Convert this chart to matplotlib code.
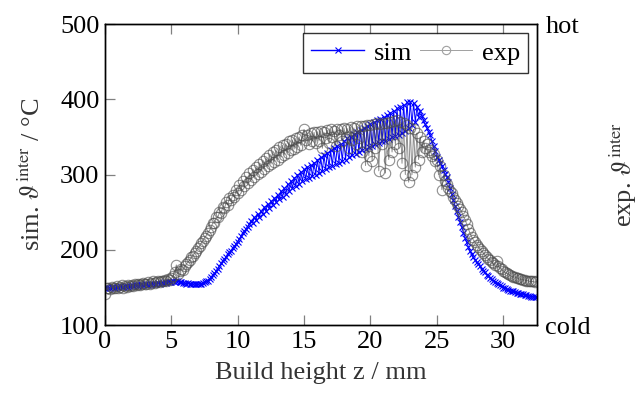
import matplotlib
matplotlib.use("Agg")
import matplotlib.pyplot as plt

z_mm = [
    0.000, 0.125, 0.250, 0.375, 0.500, 0.625, 0.750, 0.875, 1.000, 1.125, 1.250, 1.375, 1.500, 1.625, 1.750, 1.875,
    2.000, 2.125, 2.250, 2.375, 2.500, 2.625, 2.750, 2.875, 3.000, 3.125, 3.250, 3.375, 3.500, 3.625, 3.750, 3.875,
    4.000, 4.125, 4.250, 4.375, 4.500, 4.625, 4.750, 4.875, 5.000, 5.125, 5.250, 5.375, 5.500, 5.625, 5.750, 5.875,
    6.000, 6.125, 6.250, 6.375, 6.500, 6.625, 6.750, 6.875, 7.000, 7.125, 7.250, 7.375, 7.500, 7.625, 7.750, 7.875,
    8.000, 8.125, 8.250, 8.375, 8.500, 8.625, 8.750, 8.875, 9.000, 9.125, 9.250, 9.375, 9.500, 9.625, 9.750, 9.875,
    10.000, 10.125, 10.250, 10.375, 10.500, 10.625, 10.750, 10.875, 11.000, 11.125, 11.250, 11.375, 11.500, 11.625, 11.750, 11.875,
    12.000, 12.125, 12.250, 12.375, 12.500, 12.625, 12.750, 12.875, 13.000, 13.125, 13.250, 13.375, 13.500, 13.625, 13.750, 13.875,
    14.000, 14.125, 14.250, 14.375, 14.500, 14.625, 14.750, 14.875, 15.000, 15.125, 15.250, 15.375, 15.500, 15.625, 15.750, 15.875,
    16.000, 16.125, 16.250, 16.375, 16.500, 16.625, 16.750, 16.875, 17.000, 17.125, 17.250, 17.375, 17.500, 17.625, 17.750, 17.875,
    18.000, 18.125, 18.250, 18.375, 18.500, 18.625, 18.750, 18.875, 19.000, 19.125, 19.250, 19.375, 19.500, 19.625, 19.750, 19.875,
    20.000, 20.125, 20.250, 20.375, 20.500, 20.625, 20.750, 20.875, 21.000, 21.125, 21.250, 21.375, 21.500, 21.625, 21.750, 21.875,
    22.000, 22.125, 22.250, 22.375, 22.500, 22.625, 22.750, 22.875, 23.000, 23.125, 23.250, 23.375, 23.500, 23.625, 23.750, 23.875,
    24.000, 24.125, 24.250, 24.375, 24.500, 24.625, 24.750, 24.875, 25.000, 25.125, 25.250, 25.375, 25.500, 25.625, 25.750, 25.875,
    26.000, 26.125, 26.250, 26.375, 26.500, 26.625, 26.750, 26.875, 27.000, 27.125, 27.250, 27.375, 27.500, 27.625, 27.750, 27.875,
    28.000, 28.125, 28.250, 28.375, 28.500, 28.625, 28.750, 28.875, 29.000, 29.125, 29.250, 29.375, 29.500, 29.625, 29.750, 29.875,
    30.000, 30.125, 30.250, 30.375, 30.500, 30.625, 30.750, 30.875, 31.000, 31.125, 31.250, 31.375, 31.500, 31.625, 31.750, 31.875,
    32.000, 32.125, 32.250, 32.375, 32.500]

sim_T = [
    150, 151, 150, 150, 151, 151, 150, 151, 151, 152, 151, 151, 152, 152, 151, 152,
    153, 152, 153, 153, 152, 153, 154, 153, 154, 154, 153, 154, 155, 154, 155, 155,
    156, 155, 156, 156, 157, 156, 157, 157, 157, 158, 157, 158, 158, 157, 157, 156,
    156, 155, 156, 155, 155, 154, 155, 154, 154, 155, 155, 156, 157, 158, 159, 161,
    164, 166, 169, 172, 175, 178, 182, 185, 188, 191, 194, 197, 199, 202, 205, 208,
    211, 215, 218, 222, 225, 228, 231, 234, 239, 236, 243, 240, 248, 244, 252, 248,
    257, 252, 261, 256, 265, 260, 269, 264, 273, 267, 278, 270, 282, 274, 287, 278,
    292, 282, 296, 285, 300, 288, 304, 291, 307, 294, 310, 296, 313, 298, 316, 300,
    320, 302, 323, 305, 326, 307, 329, 310, 332, 312, 335, 314, 338, 316, 341, 318,
    345, 320, 348, 323, 350, 326, 354, 328, 357, 330, 359, 332, 362, 334, 364, 336,
    367, 338, 370, 340, 372, 342, 374, 344, 377, 345, 379, 347, 382, 350, 385, 351,
    388, 352, 390, 355, 393, 358, 396, 362, 397, 366, 395, 370, 390, 376, 385, 378,
    372, 367, 362, 357, 352, 345, 338, 331, 324, 320, 316, 311, 306, 301, 297, 290,
    282, 274, 266, 258, 251, 244, 237, 230, 223, 216, 210, 204, 198, 194, 190, 187,
    184, 181, 178, 175, 172, 170, 167, 165, 163, 161, 159, 157, 156, 154, 153, 152,
    150, 149, 148, 147, 146, 145, 145, 144, 143, 143, 142, 141, 141, 140, 140, 139,
    139, 138, 138, 137, 137]

exp_T = [
    141, 149, 150, 148, 151, 149, 150, 152, 150, 151, 153, 150, 152, 151, 153, 152,
    153, 152, 154, 153, 155, 153, 154, 156, 154, 155, 157, 155, 156, 158, 156, 157,
    158, 157, 159, 158, 160, 159, 161, 160, 162, 165, 170, 180, 168, 172, 175, 173,
    178, 181, 184, 186, 190, 192, 196, 199, 203, 205, 209, 212, 216, 219, 223, 226,
    230, 236, 236, 243, 243, 250, 249, 257, 255, 263, 260, 269, 266, 273, 270, 279,
    276, 286, 280, 292, 285, 297, 289, 302, 293, 306, 297, 310, 301, 314, 304, 318,
    308, 322, 311, 326, 314, 330, 317, 333, 320, 336, 323, 339, 326, 341, 329, 344,
    332, 346, 334, 348, 336, 350, 339, 352, 360, 346, 352, 340, 355, 345, 356, 342,
    357, 345, 358, 335, 356, 348, 359, 342, 360, 350, 358, 338, 361, 352, 360, 345,
    362, 350, 361, 335, 363, 346, 362, 340, 364, 348, 365, 330, 364, 312, 366, 325,
    366, 318, 367, 335, 368, 305, 367, 340, 368, 302, 369, 320, 370, 330, 371, 340,
    372, 335, 370, 315, 368, 300, 366, 290, 362, 300, 360, 310, 355, 320, 350, 330,
    345, 335, 340, 330, 333, 325, 328, 318, 320, 300, 312, 280, 300, 292, 288, 282,
    278, 275, 270, 266, 262, 258, 254, 250, 245, 240, 234, 228, 222, 217, 213, 210,
    207, 204, 201, 198, 196, 193, 190, 188, 186, 184, 182, 180, 185, 178, 176, 174,
    172, 170, 169, 168, 166, 165, 164, 164, 163, 162, 161, 161, 160, 160, 159, 159,
    158, 158, 158, 157, 158]

x_ticks = [0, 5, 10, 15, 20, 25, 30]
y_ticks = [100, 200, 300, 400, 500]
right_ticks = [100, 500]
right_labels = ["cold", "hot"]

plt.rcParams['font.family'] = ['Liberation Serif', 'DejaVu Serif']
plt.rcParams['mathtext.fontset'] = 'stix'

fig = plt.figure(figsize=(6.44, 3.97), dpi=100)
ax = fig.add_axes([0.163, 0.181, 0.671, 0.7585])

ax.plot(z_mm, sim_T, color='#0000ff', lw=0.7, marker='x', ms=4.5, mew=0.8, label='sim', zorder=2)
ax.plot(z_mm, exp_T, color='#4a4a4a', lw=0.7, marker='o', ms=7.5, mfc='none', mew=0.8,
        alpha=0.62, label='exp', zorder=3)

ax.set_xlim(0, 32.55)
ax.set_ylim(100, 500)
ax.set_xticks(x_ticks)
ax.set_yticks(y_ticks)
fs = 19
ax.tick_params(direction='in', length=7, width=0.9, color='#808080', labelsize=fs,
               top=True, right=False, pad=4)
for s in ax.spines.values():
    s.set_linewidth(1.0)
    s.set_color('black')

ax.set_xlabel('Build height z / mm', fontsize=fs, color='#333333', labelpad=7)
ax.set_ylabel(r'sim. $\vartheta^{\mathrm{inter}}$ / °C', fontsize=fs, color='#333333', labelpad=11)

ax2 = ax.twinx()
ax2.set_ylim(100, 500)
ax2.set_yticks(right_ticks)
ax2.set_yticklabels(right_labels)
ax2.tick_params(direction='in', length=0, labelsize=fs, pad=6)
ax2.set_ylabel(r'exp. $\vartheta^{\mathrm{inter}}$', fontsize=fs, color='#333333', labelpad=12)
for s in ax2.spines.values():
    s.set_linewidth(1.0)

leg = ax.legend(loc='upper right', ncol=2, fontsize=fs, frameon=True, fancybox=False,
                edgecolor='black', handlelength=2.0, handletextpad=0.35, columnspacing=0.3,
                borderpad=0.3, borderaxespad=0.35)
leg.get_frame().set_linewidth(1.0)
for h in leg.legend_handles:
    h.set_alpha(1.0)
leg.legend_handles[0].set_linewidth(1.0)
leg.legend_handles[0].set_markersize(5)
leg.legend_handles[1].set_color('#a0a0a0')
leg.legend_handles[1].set_markersize(6)

fig.savefig('out.png', dpi=100)
